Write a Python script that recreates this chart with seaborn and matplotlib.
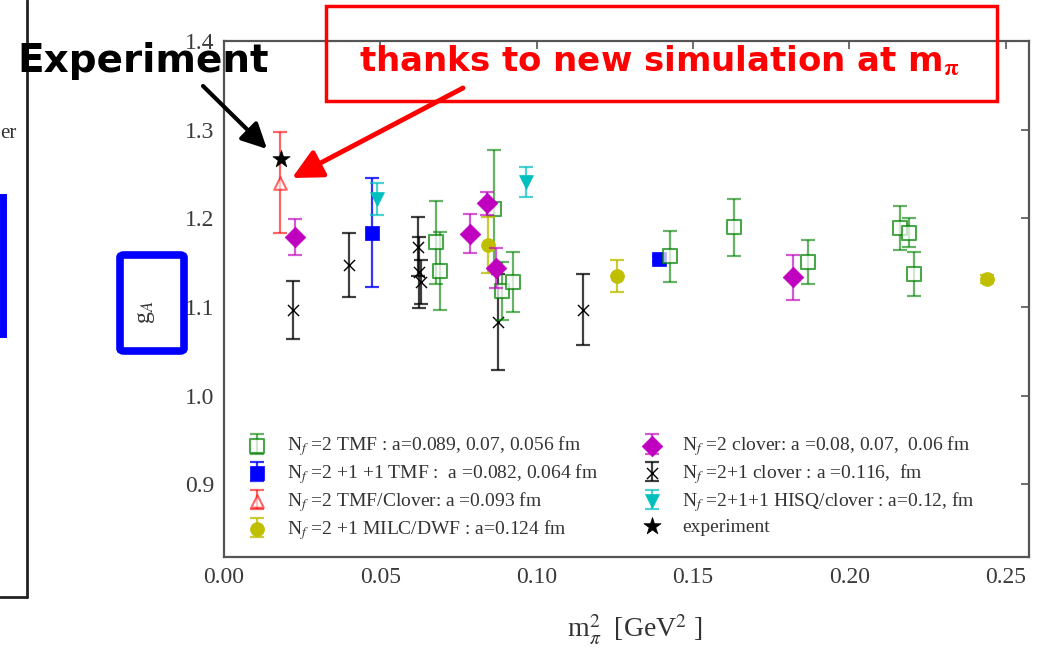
import matplotlib
matplotlib.use("Agg")
import matplotlib.pyplot as plt
from matplotlib.patches import Rectangle, FancyBboxPatch
from matplotlib.legend_handler import HandlerTuple
import seaborn as sns

# ---- g_A lattice results vs m_pi^2 ----
# Nf=2 twisted mass (TMF)
tmf2_x = [0.0678, 0.0690, 0.0863, 0.0889, 0.0926, 0.1427, 0.1632, 0.1867, 0.2163, 0.2192, 0.2208]
tmf2_y = [1.173, 1.141, 1.211, 1.118, 1.128, 1.157, 1.190, 1.151, 1.189, 1.184, 1.137]
tmf2_e = [0.047, 0.044, 0.066, 0.033, 0.034, 0.029, 0.032, 0.025, 0.025, 0.016, 0.025]

# Nf=2+1+1 TMF
tmf4_x = [0.0473, 0.1393]
tmf4_y = [1.184, 1.154]
tmf4_e = [0.061, 0.003]

# Nf=2 TMF/clover at the physical point
tmfc_x = [0.0178]
tmfc_y = [1.240]
tmfc_e = [0.057]

# Nf=2+1 MILC/DWF
milc_x = [0.0846, 0.1257, 0.2442]
milc_y = [1.170, 1.1345, 1.1316]
milc_e = [0.032, 0.018, 0.004]

# Nf=2 clover
clov2_x = [0.0228, 0.0786, 0.0841, 0.0870, 0.1821]
clov2_y = [1.179, 1.1825, 1.217, 1.144, 1.1334]
clov2_e = [0.020, 0.022, 0.013, 0.023, 0.025]

# Nf=2+1 clover
clov3_x = [0.0222, 0.0401, 0.0620, 0.0625, 0.0630, 0.0876, 0.1148]
clov3_y = [1.0965, 1.1477, 1.168, 1.139, 1.128, 1.083, 1.0968]
clov3_e = [0.033, 0.036, 0.033, 0.040, 0.025, 0.054, 0.040]

# Nf=2+1+1 HISQ/clover
hisq_x = [0.0489, 0.0966]
hisq_y = [1.222, 1.2409]
hisq_e = [0.018, 0.017]

# experiment
expt_x = [0.0182]
expt_y = [1.2665]

labels = [
    r"N$_f$ =2 TMF : a=0.089, 0.07, 0.056 fm",
    r"N$_f$ =2 +1 +1 TMF :  a =0.082, 0.064 fm",
    r"N$_f$ =2 TMF/Clover: a =0.093 fm",
    r"N$_f$ =2 +1 MILC/DWF : a=0.124 fm",
    r"N$_f$ =2 clover: a =0.08, 0.07,  0.06 fm",
    r"N$_f$ =2+1 clover : a =0.116,  fm",
    r"N$_f$ =2+1+1 HISQ/clover : a=0.12, fm",
    "experiment",
]

x_ticks = [0.00, 0.05, 0.10, 0.15, 0.20, 0.25]
y_ticks = [0.9, 1.0, 1.1, 1.2, 1.3, 1.4]

sns.set_style("white")
plt.rcParams["font.family"] = ["Liberation Serif", "DejaVu Serif"]
plt.rcParams["mathtext.fontset"] = "stix"

W, H = 1046, 650
fig = plt.figure(figsize=(W / 100, H / 100), dpi=100)
ax = fig.add_axes([224 / W, 1 - 557 / H, (1029 - 224) / W, (557 - 41) / H])

GREEN = (0.0, 0.5, 0.0)
BLUE = (0.0, 0.0, 1.0)
RED = (1.0, 0.0, 0.0)
YELLOW = (0.75, 0.75, 0.0)
MAGENTA = (0.75, 0.0, 0.75)
CYAN = (0.0, 0.75, 0.75)
BLACK = (0.0, 0.0, 0.0)


def series(x, y, err, color, marker, size, face, z, bar_alpha=0.65, edge_alpha=1.0, lw=1.5):
    cont = None
    if err is not None:
        cont = ax.errorbar(x, y, yerr=err, fmt="none", ecolor=color, alpha=bar_alpha,
                           elinewidth=1.6, capsize=5, capthick=1.6, zorder=z)
    sc = sns.scatterplot(x=x, y=y, ax=ax, marker=marker, s=size ** 2,
                         facecolor=face, edgecolor=color, linewidth=lw,
                         alpha=edge_alpha, zorder=z + 0.5, legend=False)
    pts = sc.collections[-1]
    return (cont, pts) if cont is not None else (pts,)


h_clov3 = series(clov3_x, clov3_y, clov3_e, BLACK, "x", 8, BLACK, 3, bar_alpha=0.75, lw=1.0)
h_tmf4 = series(tmf4_x, tmf4_y, tmf4_e, BLUE, "s", 10, BLUE, 4, bar_alpha=0.8, lw=0.5)
h_tmf2 = series(tmf2_x, tmf2_y, tmf2_e, GREEN, "s", 10, "white", 5, bar_alpha=0.6, edge_alpha=0.7, lw=1.5)
h_milc = series(milc_x, milc_y, milc_e, YELLOW, "o", 10, YELLOW, 6, bar_alpha=0.8, lw=0.5)
h_clov2 = series(clov2_x, clov2_y, clov2_e, MAGENTA, "D", 10.5, MAGENTA, 7, bar_alpha=0.65, lw=0.5)
h_hisq = series(hisq_x, hisq_y, hisq_e, CYAN, "v", 10, CYAN, 8, bar_alpha=0.7, lw=0.5)
h_tmfc = series(tmfc_x, tmfc_y, tmfc_e, RED, "^", 9, "white", 9, bar_alpha=0.6, edge_alpha=0.6, lw=1.5)
h_expt = series(expt_x, expt_y, None, BLACK, "*", 13, BLACK, 10, lw=0.5)

ax.set_xlim(0, 0.2575)
ax.set_ylim(0.818, 1.4)
ax.set_xticks(x_ticks)
ax.set_xticklabels([f"{t:.2f}" for t in x_ticks])
ax.set_yticks(y_ticks)
ax.set_yticklabels([f"{t:.1f}" for t in y_ticks])
ax.tick_params(direction="in", top=True, right=True, length=6, width=1.2,
               color="#555555", labelsize=17, labelcolor="#3a3a3a", pad=7)
for sp in ax.spines.values():
    sp.set_color("#555555")
    sp.set_linewidth(1.6)

ax.set_xlabel(r"m$_\pi^2$  [GeV$^2$ ]", fontsize=20, color="#333333")
ax.xaxis.set_label_coords(0.51, -0.108)
ax.set_ylabel(r"g$_A$", fontsize=17, color="#333333")
ax.yaxis.set_label_coords(-0.083, 0.475)

handles = [h_tmf2, h_tmf4, h_tmfc, h_milc, h_clov2, h_clov3, h_hisq, h_expt]
leg = ax.legend(handles, labels, ncol=2, loc="lower left",
                bbox_to_anchor=(0.011, 0.003), frameon=False, fontsize=14,
                handler_map={tuple: HandlerTuple(ndivide=1, pad=0)},
                handlelength=1.1, handletextpad=1.0, columnspacing=2.2,
                labelspacing=0.2, borderpad=0.2)
for t in leg.get_texts():
    t.set_color("#333333")

# ---- slide overlays drawn in figure pixels ----
def fy(y):
    return H - y

# frame of the neighbouring panel at the left edge
fig.add_artist(plt.Line2D([27 / W, 27 / W], [fy(597) / H, 1.0], color="#222222", lw=2))
fig.add_artist(plt.Line2D([0, 27 / W], [fy(597) / H, fy(597) / H], color="#222222", lw=2))
fig.text(0.5 / W, fy(134) / H, "er", fontsize=15, color="#333333", va="center", ha="left")
fig.add_artist(Rectangle((-30 / W, fy(334) / H), 33 / W, 137 / H, transform=fig.transFigure,
                         fill=False, edgecolor=BLUE, lw=5))

# box around the y label
fig.add_artist(FancyBboxPatch((120 / W, fy(351) / H), 64 / W, 96 / H,
                              boxstyle="round,pad=0,rounding_size=0.004",
                              transform=fig.transFigure, fill=False, edgecolor=BLUE, lw=5.5))

# "Experiment" callout
fig.text(17 / W, fy(61) / H, "Experiment", fontsize=28, fontweight="bold",
         family="DejaVu Sans", color="black", va="center", ha="left")
ax.annotate("", xy=(267, fy(149)), xycoords="figure pixels",
            xytext=(203, fy(86)), textcoords="figure pixels",
            arrowprops=dict(arrowstyle="-|>", color="black", lw=3, mutation_scale=38,
                            shrinkA=0, shrinkB=0))

# red note box and arrow
fig.add_artist(Rectangle((326 / W, fy(101) / H), 671 / W, 95 / H, transform=fig.transFigure,
                         fill=False, edgecolor=RED, lw=2.5))
fig.text(660 / W, fy(61) / H, r"thanks to new simulation at m$_\mathbf{\pi}$", fontsize=24.5,
         fontweight="bold", family="DejaVu Sans", color=RED, va="center", ha="center")
ax.annotate("", xy=(292, fy(178)), xycoords="figure pixels",
            xytext=(463, fy(88)), textcoords="figure pixels",
            arrowprops=dict(arrowstyle="-|>", color=RED, lw=3.5, mutation_scale=45,
                            shrinkA=0, shrinkB=0))

fig.savefig("out.png", dpi=100)
